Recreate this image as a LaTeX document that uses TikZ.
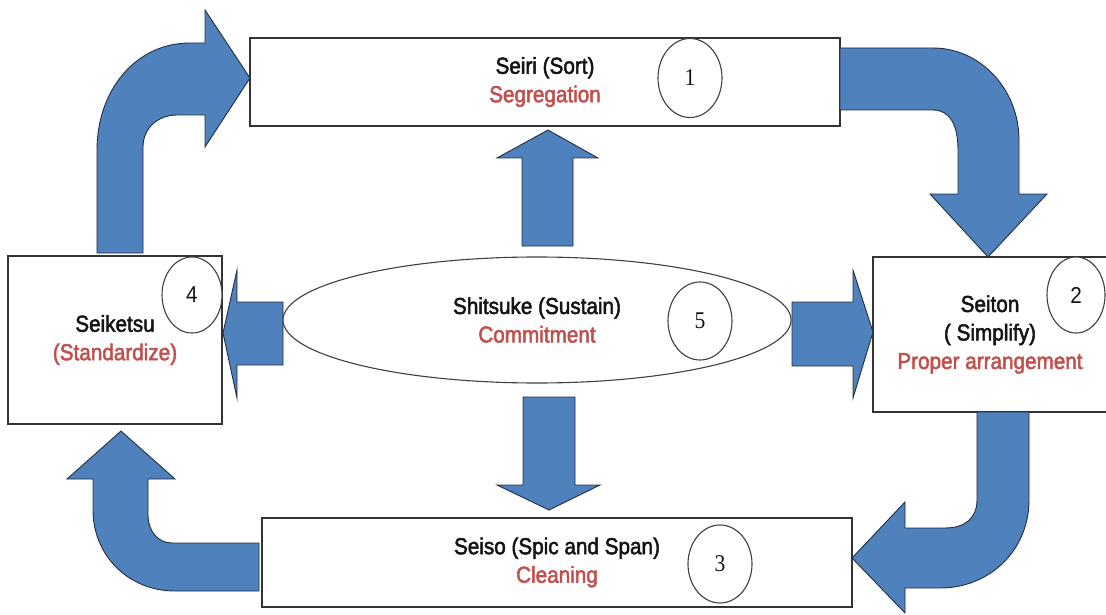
\documentclass[tikz,border=0pt]{standalone}
\usepackage{fontspec}
\setmainfont{Liberation Sans}[FakeStretch=0.9, FakeBold=2.2]
\newfontfamily\numsans{Liberation Sans}[FakeStretch=0.9]
\newfontfamily\numserif{Liberation Serif}[FakeStretch=0.9]
\usetikzlibrary{shapes.geometric}
\definecolor{arrowblue}{RGB}{79,129,189}
\definecolor{arrowline}{RGB}{35,45,65}
\definecolor{labelred}{RGB}{192,80,77}
\definecolor{ink}{RGB}{20,20,20}
\tikzset{
  stagebox/.style={draw=black!80, line width=1.2pt, fill=white, inner sep=0pt,
    align=center, text=ink, font=\fontsize{23}{28.5}\selectfont},
  blockarrow/.style={fill=arrowblue, draw=arrowline, line width=0.9pt, line join=miter},
  numcircle/.style={ellipse, draw=black!75, line width=1.1pt, fill=white,
    inner sep=0pt, text=ink},
  centre/.style={ellipse, draw=black!75, line width=1.1pt, fill=white,
    minimum width=508pt, minimum height=126pt, inner sep=0pt, align=center,
    text=ink, font=\fontsize{23}{28.5}\selectfont},
}
\newcommand{\redtext}[1]{\textcolor{labelred}{#1}}
\begin{document}
\begin{tikzpicture}[x=1pt, y=-1pt]
  \useasboundingbox (0,0) rectangle (1106,615);

  % the four stage boxes
  \node[stagebox, minimum width=590pt, minimum height=88pt] (seiri) at (545,82)
    {Seiri (Sort)\\\redtext{Segregation}};
  \node[stagebox, minimum width=234pt, minimum height=155pt] (seiton) at (990,334.5)
    {Seiton\\( Simplify)\\\redtext{Proper arrangement}};
  \node[stagebox, minimum width=590pt, minimum height=89pt] (seiso) at (557,562.5)
    {Seiso (Spic and Span)\\\redtext{Cleaning}};
  \node[stagebox, minimum width=214pt, minimum height=168pt] (seiketsu) at (115,340)
    {Seiketsu\\\redtext{(Standardize)}};

  % bent arrow: Seiketsu -> Seiri
  \draw[blockarrow] (97,253) -- (97,150)
    .. controls (97,91) and (135,43) .. (190,43) -- (205,43) -- (205,10)
    -- (250,78) -- (205,147) -- (205,115) -- (177,115)
    .. controls (158,115) and (143,128) .. (143,147) -- (143,253) -- cycle;

  % bent arrow: Seiri -> Seiton
  \draw[blockarrow] (840,48) -- (933,48)
    .. controls (981,48) and (1019,90) .. (1019,140) -- (1019,194)
    -- (1047,194) -- (988,257) -- (930,194) -- (958,194) -- (958,150)
    .. controls (958,125) and (950,110) .. (933,110) -- (840,110) -- cycle;

  % bent arrow: Seiton -> Seiso
  \draw[blockarrow] (1029,412) -- (1029,500)
    .. controls (1029,550) and (990,588) .. (940,588) -- (905,588)
    -- (905,613) -- (852,558) -- (905,502) -- (905,528) -- (945,528)
    .. controls (965,528) and (977,518) .. (977,500) -- (977,412) -- cycle;

  % bent arrow: Seiso -> Seiketsu
  \draw[blockarrow] (259,591) -- (175,591)
    .. controls (128,591) and (93,555) .. (93,510) -- (93,479)
    -- (67,479) -- (121,431) -- (175,479) -- (148,479) -- (148,515)
    .. controls (148,531) and (158,543) .. (172,543) -- (259,543) -- cycle;

  % straight arrows out of the centre
  \draw[blockarrow] (522,246) -- (522,158) -- (497,158) -- (548,130)
    -- (598,158) -- (573,158) -- (573,246) -- cycle;
  \draw[blockarrow] (523,397) -- (575,397) -- (575,485) -- (600,485)
    -- (549,510) -- (497,485) -- (523,485) -- cycle;
  \draw[blockarrow] (283,302) -- (237,302) -- (237,270) -- (223,333)
    -- (237,398) -- (237,365) -- (283,365) -- cycle;
  \draw[blockarrow] (792,302) -- (853,302) -- (853,270) -- (873,332)
    -- (853,398) -- (853,366) -- (792,366) -- cycle;

  % centre ellipse
  \node[centre] (shitsuke) at (537,320)
    {Shitsuke (Sustain)\\\redtext{Commitment}};

  % step numbers
  \node[numcircle, minimum width=64pt, minimum height=79pt,
    font=\numserif\fontsize{24}{24}\selectfont] (n1) at (690,78) {1};
  \node[numcircle, minimum width=58pt, minimum height=76pt,
    font=\numsans\fontsize{23}{23}\selectfont] (n2) at (1076,295) {2};
  \node[numcircle, minimum width=64pt, minimum height=78pt,
    font=\numserif\fontsize{24}{24}\selectfont] (n3) at (720,564) {3};
  \node[numcircle, minimum width=60pt, minimum height=76pt,
    font=\numsans\fontsize{23}{23}\selectfont] (n4) at (192,295) {4};
  \node[numcircle, minimum width=64pt, minimum height=78pt,
    font=\numserif\fontsize{24}{24}\selectfont] (n5) at (700,321) {5};
\end{tikzpicture}
\end{document}
